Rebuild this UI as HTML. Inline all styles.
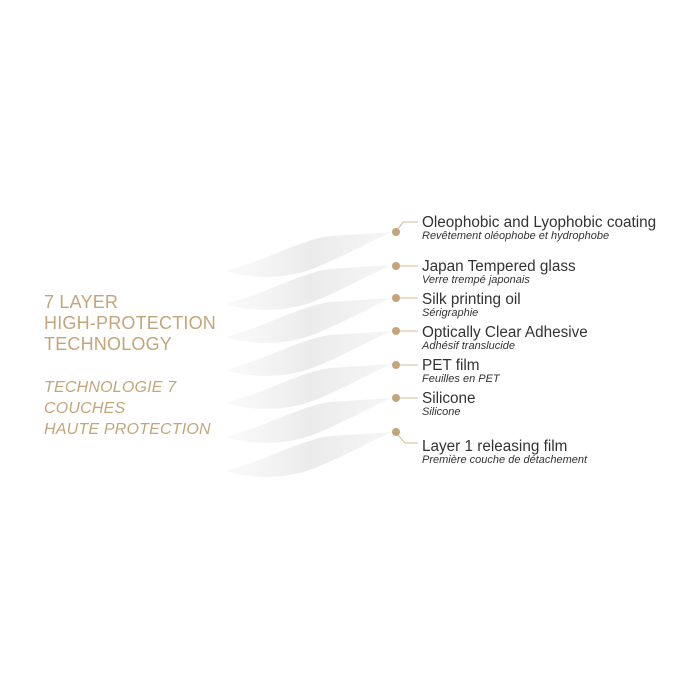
<!DOCTYPE html>
<html><head><meta charset="utf-8"><style>
body{margin:0;width:700px;height:700px;background:#fff;position:relative;font-family:"Liberation Sans",sans-serif;overflow:hidden}
.h{position:absolute;left:44px;color:#c4a57a;font-size:18px;line-height:21px;letter-spacing:0.2px}
.t{position:absolute;left:422px;color:#333;font-size:15.3px;line-height:15px}
.t i{display:block;font-size:11px;line-height:12px;color:#333}
</style></head><body>
<div class="h" style="top:292px">7 LAYER<br>HIGH-PROTECTION<br>TECHNOLOGY</div>
<div class="h" style="top:377px;font-style:italic;font-size:16px;line-height:21px">TECHNOLOGIE 7<br>COUCHES<br>HAUTE PROTECTION</div>
<svg width="700" height="700" style="position:absolute;left:0;top:0">
<defs><linearGradient id="g" x1="0" x2="1"><stop offset="0" stop-color="#f4f4f4" stop-opacity="0.5"/><stop offset="0.5" stop-color="#ebebeb"/><stop offset="1" stop-color="#f6f6f6"/></linearGradient></defs>
<g fill="url(#g)">
<path id="s" d="M228,270 C262,262 300,240 330,236 L392,232 C372,240 345,256 315,268 C290,278 258,280 228,272 Z"/>
<use href="#s" y="33"/><use href="#s" y="66"/><use href="#s" y="99"/><use href="#s" y="132"/><use href="#s" y="166"/><use href="#s" y="200"/>
</g>
<g fill="#c4a57a"><circle cx="396" cy="232" r="4"/><circle cx="396" cy="266" r="4"/><circle cx="396" cy="298" r="4"/><circle cx="396" cy="331" r="4"/><circle cx="396" cy="365" r="4"/><circle cx="396" cy="398" r="4"/><circle cx="396" cy="432" r="4"/></g>
<g stroke="#c4a57a" stroke-width="0.8" fill="none">
<path d="M398,229 L403,222 L418,222"/><path d="M400,266 H418"/><path d="M400,298 H418"/><path d="M400,331 H418"/><path d="M400,365 H418"/><path d="M400,398 H418"/><path d="M398,435 L405,443 H418"/>
</g></svg>
<div class="t" style="top:215px">Oleophobic and Lyophobic coating<i>Revêtement oléophobe et hydrophobe</i></div>
<div class="t" style="top:259px">Japan Tempered glass<i>Verre trempé japonais</i></div>
<div class="t" style="top:292px">Silk printing oil<i>Sérigraphie</i></div>
<div class="t" style="top:325px">Optically Clear Adhesive<i>Adhésif translucide</i></div>
<div class="t" style="top:358px">PET film<i>Feuilles en PET</i></div>
<div class="t" style="top:391px">Silicone<i>Silicone</i></div>
<div class="t" style="top:439px">Layer 1 releasing film<i>Première couche de détachement</i></div>
</body></html>
